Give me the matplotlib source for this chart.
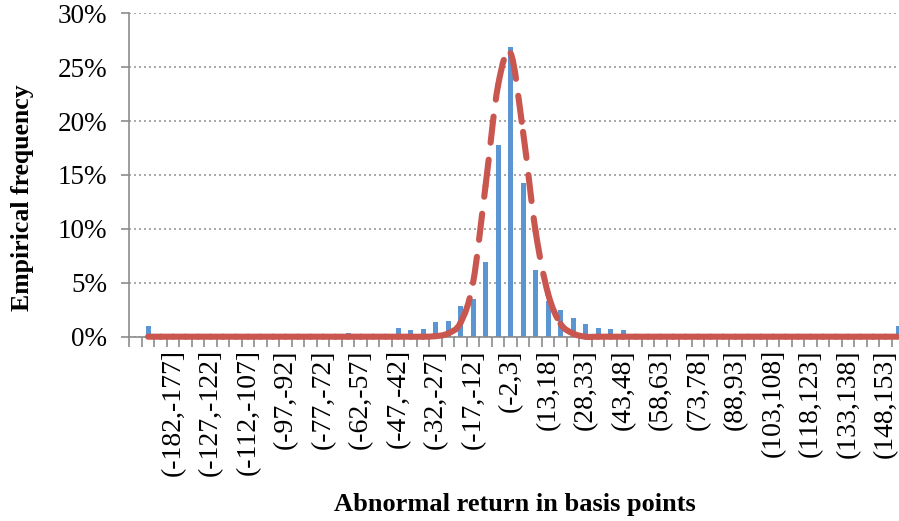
import matplotlib
matplotlib.use("Agg")
import matplotlib.pyplot as plt
from matplotlib.path import Path
from matplotlib.patches import PathPatch
from matplotlib.ticker import FixedLocator, PercentFormatter

# lower edges of each return bin (basis points), bins are 5 bp wide
binLow = [-197, -192, -187, -182, -177, -137, -127, -122, -117, -112, -107, -102,
          -97, -87, -82, -77, -72, -67, -62, -57, -52, -47, -42, -37,
          -32, -27, -22, -17, -12, -7, -2, 3, 8, 13, 18, 23,
          28, 33, 38, 43, 48, 53, 58, 63, 68, 73, 78, 83,
          88, 93, 98, 103, 108, 113, 118, 123, 128, 133, 138, 143,
          148, 153]
binHigh = [b + 5 for b in binLow]
categories = [f"({lo},{hi}]" for lo, hi in zip(binLow, binHigh)]

# empirical frequency in percent
freq = [0.0, 1.0, 0.0, 0.0, 0.0, 0.0, 0.0, 0.0, 0.0, 0.0, 0.0, 0.0,
        0.0, 0.0, 0.0, 0.0, 0.0, 0.3, 0.0, 0.0, 0.0, 0.8, 0.6, 0.7,
        1.35, 1.45, 2.85, 3.5, 6.9, 17.8, 26.9, 14.3, 6.15, 3.3, 2.5, 1.7,
        1.15, 0.8, 0.75, 0.6, 0.0, 0.0, 0.0, 0.0, 0.0, 0.0, 0.0, 0.0,
        0.0, 0.0, 0.0, 0.0, 0.0, 0.0, 0.0, 0.0, 0.0, 0.0, 0.0, 0.0,
        0.0, 1.0]

# fitted normal density (percent), no value for the first bin
fitted = [None, 0.0, 0.0, 0.0, 0.0, 0.0, 0.0, 0.0, 0.0, 0.0, 0.0, 0.0,
          0.0, 0.0, 0.0, 0.0, 0.0, 0.0, 0.0, 0.0, 0.0, 0.0, 0.0, 0.0,
          0.05, 0.3, 1.3, 5.0, 14.0, 23.3, 26.3, 19.0, 9.8, 4.0, 1.2, 0.3,
          0.0, 0.0, 0.0, 0.0, 0.0, 0.0, 0.0, 0.0, 0.0, 0.0, 0.0, 0.0,
          0.0, 0.0, 0.0, 0.0, 0.0, 0.0, 0.0, 0.0, 0.0, 0.0, 0.0, 0.0,
          0.0, 0.0]

plt.rcParams["font.family"] = ["Liberation Serif", "DejaVu Serif"]

W, H = 899, 521
fig = plt.figure(figsize=(W / 100, H / 100), dpi=100)
left, right = 129.3, 904.3
top, bottom = 13.3, 336.7
ax = fig.add_axes([left / W, 1 - bottom / H, (right - left) / W, (bottom - top) / H])

x = list(range(len(categories)))
ax.bar(x, freq, width=0.4, color="#5B95D2", zorder=2)

# smoothed line like Excel: one bezier per segment, dash pattern restarts each segment
valid = [i for i in x if fitted[i] is not None]
first, last = valid[0], valid[-1]
for i in range(first, last):
    a, d = max(i - 1, first), min(i + 2, last)
    p0 = (x[a], fitted[a])
    p1 = (x[i], fitted[i])
    p2 = (x[i + 1], fitted[i + 1])
    p3 = (x[d], fitted[d])
    c1 = (p1[0] + (p2[0] - p0[0]) / 6, p1[1] + (p2[1] - p0[1]) / 6)
    c2 = (p2[0] - (p3[0] - p1[0]) / 6, p2[1] - (p3[1] - p1[1]) / 6)
    seg = Path([p1, c1, c2, p2], [Path.MOVETO, Path.CURVE4, Path.CURVE4, Path.CURVE4])
    ax.add_patch(PathPatch(seg, facecolor="none", edgecolor="#C9574F", lw=4.4,
                           linestyle=(0, (4.3, 2.8)), capstyle="round", zorder=3, clip_on=False))

ax.set_xlim(-0.5, len(categories) - 0.5)
ax.set_ylim(0, 30)
ax.set_yticks(range(0, 31, 5))
ax.yaxis.set_major_formatter(PercentFormatter(decimals=0))
ax.grid(axis="y", color="#999999", linestyle=(0, (1.2, 1.8)), linewidth=1.2, zorder=0)

labelIdx = list(range(3, len(categories), 3))
ax.set_xticks(labelIdx)
ax.set_xticklabels([categories[i] for i in labelIdx], rotation=90, va="top", ha="center")
ax.xaxis.set_minor_locator(FixedLocator([i - 0.5 for i in range(len(categories) + 1)]))
ax.tick_params(axis="x", which="major", length=0, pad=9, labelsize=20)
ax.tick_params(axis="x", which="minor", length=7, width=1.2, color="#8c8c8c")
ax.tick_params(axis="y", length=6, width=1.2, color="#8c8c8c", pad=10, labelsize=19.5)

for s in ["top", "right"]:
    ax.spines[s].set_visible(False)
for s in ["left", "bottom"]:
    ax.spines[s].set_color("#8c8c8c")
    ax.spines[s].set_linewidth(1.2)

fig.text(515 / W, 1 - 504 / H, "Abnormal return in basis points", ha="center", va="center",
         fontsize=19, fontweight="bold")
fig.text(23 / W, 1 - 198 / H, "Empirical frequency", ha="center", va="center",
         rotation=90, fontsize=18.5, fontweight="bold")

fig.savefig("out.png", dpi=100)
